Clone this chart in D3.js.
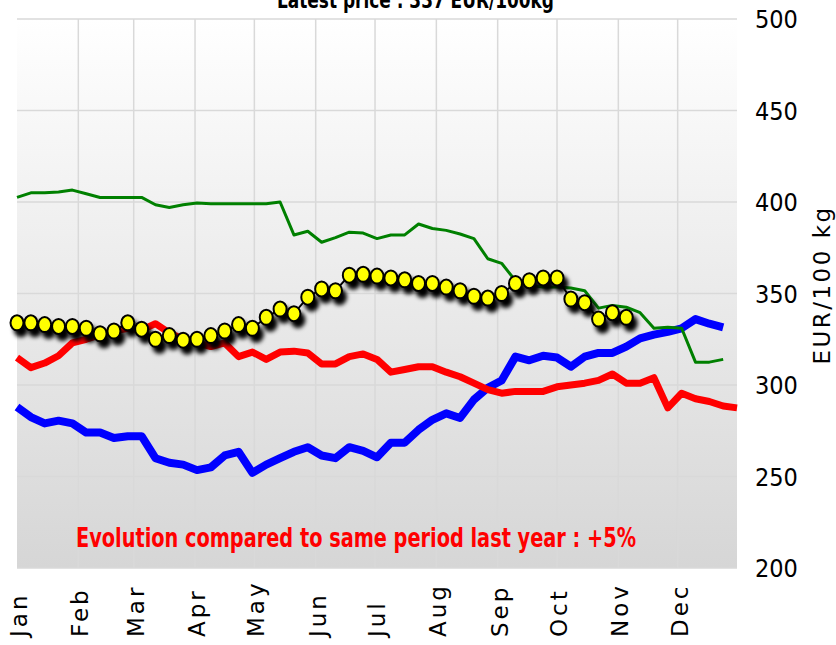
<!DOCTYPE html>
<html>
<head>
  <title>Price chart</title>
  <script src="https://d3js.org/d3.v7.min.js"></script>
  <style>
    body { margin: 0; background: #fff; }
  </style>
</head>
<body>
  <div id="chart"></div>

  <script>
    // weekly prices, EUR/100 kg
    var months = ["Jan", "Feb", "Mar", "Apr", "May", "Jun", "Jul", "Aug", "Sep", "Oct", "Nov", "Dec"];
    var monthStartDay = [0, 31, 59, 90, 120, 151, 181, 212, 243, 273, 304, 334];
    var yTicks = [200, 250, 300, 350, 400, 450, 500];

    var currentYear = [334, 334, 333, 332, 332, 331, 328, 329.5, 334, 330.5, 325, 327, 324.5, 325,
      327, 329.5, 333, 331, 337, 341.5, 339, 348, 352.5, 351.5, 360, 360.5, 359.5, 358.5, 357.5,
      355.5, 355.5, 353.5, 351.5, 348.5, 347.5, 350, 355.5, 357, 358.5, 358.5, 347, 345, 336,
      339.5, 337];

    var greenYear = [402.5, 405, 405, 405.5, 406.5, 404.5, 402.5, 402.5, 402.5, 402.5, 398.5, 397,
      398.5, 399.5, 399, 399, 399, 399, 399, 400, 382, 384, 378, 380.5, 383.5, 383, 380, 382, 382,
      388, 385.5, 384.5, 382.5, 380, 369, 366.5, 357, 354.5, 353.5, 353.5, 353, 351.5, 342, 343.5,
      342.5, 339.5, 331, 331.5, 331, 312.5, 312.5, 314];

    var redYear = [315, 309.5, 312, 316, 323, 325, 327.5, 329.5, 331, 330, 333.5, 328.5, 325, 323,
      321, 323, 315.5, 318, 314, 318, 318.5, 317.5, 311.5, 311.5, 315.5, 317, 314, 307, 308.5,
      310, 310, 307, 304.5, 301, 297.5, 295.5, 296.5, 296.5, 296.5, 299, 300, 301, 302.5, 306,
      301, 301, 304, 287.5, 295.5, 292.5, 291, 288.5, 287.5];

    var blueYear = [288, 282.5, 279, 280.5, 279, 274, 274, 271, 272, 272, 260, 257.5, 256.5, 253.5,
      255, 261.5, 263.5, 252, 256.5, 260, 263.5, 266, 261.5, 260, 266, 264, 260.5, 268.5, 268.5,
      275.5, 281, 284.5, 282, 292, 298.5, 302.5, 315.5, 313.5, 316, 315, 310, 315.5, 317.5, 317.5,
      321, 325.5, 327.5, 329, 331, 336, 333.5, 331.5];

    var titleText = "Latest price : 337 EUR/100kg";
    var noteText = "Evolution compared to same period last year : +5%";
    var yTitle = "EUR/100 kg";

    var width = 836, height = 645;
    var plot = { left: 17, right: 737, top: 19, bottom: 568 };

    var x = d3.scaleLinear().domain([0, 365]).range([plot.left, 739]);
    var y = d3.scaleLinear().domain([200, 500]).range([plot.bottom, plot.top]);

    var svg = d3.select("#chart")
      .append("svg")
      .attr("width", width)
      .attr("height", height);

    var defs = svg.append("defs");
    var grad = defs.append("linearGradient")
      .attr("id", "bg")
      .attr("x1", 0).attr("y1", 0).attr("x2", 0).attr("y2", 1);
    grad.append("stop").attr("offset", "0%").attr("stop-color", "#ffffff");
    grad.append("stop").attr("offset", "100%").attr("stop-color", "#d6d6d6");

    var shadow = defs.append("filter")
      .attr("id", "shadow")
      .attr("x", "-100%").attr("y", "-100%")
      .attr("width", "300%").attr("height", "300%");
    shadow.append("feDropShadow")
      .attr("dx", 4).attr("dy", 6)
      .attr("stdDeviation", 2)
      .attr("flood-color", "#000")
      .attr("flood-opacity", 1);

    svg.append("rect")
      .attr("x", plot.left)
      .attr("y", plot.top)
      .attr("width", plot.right - plot.left)
      .attr("height", plot.bottom - plot.top)
      .attr("fill", "url(#bg)");

    // grid
    svg.selectAll(".hgrid")
      .data(yTicks)
      .enter()
      .append("line")
      .attr("x1", plot.left)
      .attr("x2", plot.right)
      .attr("y1", function(d) { return y(d); })
      .attr("y2", function(d) { return y(d); })
      .attr("stroke", "#d9d9d9")
      .attr("stroke-width", 1.5);

    svg.selectAll(".vgrid")
      .data(monthStartDay.slice(1))
      .enter()
      .append("line")
      .attr("x1", function(d) { return x(d); })
      .attr("x2", function(d) { return x(d); })
      .attr("y1", plot.top)
      .attr("y2", plot.bottom)
      .attr("stroke", "#d9d9d9")
      .attr("stroke-width", 1.5);

    var line = d3.line()
      .x(function(d, i) { return x(i * 7); })
      .y(function(d) { return y(d); });

    svg.append("path")
      .datum(blueYear)
      .attr("d", line)
      .attr("fill", "none")
      .attr("stroke", "#0000ff")
      .attr("stroke-width", 8)
      .attr("stroke-linejoin", "round");

    svg.append("path")
      .datum(redYear)
      .attr("d", line)
      .attr("fill", "none")
      .attr("stroke", "#ff0000")
      .attr("stroke-width", 7)
      .attr("stroke-linejoin", "round");

    svg.append("path")
      .datum(greenYear)
      .attr("d", line)
      .attr("fill", "none")
      .attr("stroke", "#008000")
      .attr("stroke-width", 3)
      .attr("stroke-linejoin", "round");

    svg.append("path")
      .datum(currentYear)
      .attr("d", line)
      .attr("fill", "none")
      .attr("stroke", "#000")
      .attr("stroke-width", 2);

    svg.selectAll(".marker")
      .data(currentYear)
      .enter()
      .append("ellipse")
      .attr("cx", function(d, i) { return x(i * 7); })
      .attr("cy", function(d) { return y(d); })
      .attr("rx", 6.5)
      .attr("ry", 7.5)
      .attr("fill", "#ffff00")
      .attr("stroke", "#000")
      .attr("stroke-width", 2)
      .attr("filter", "url(#shadow)");

    // y axis on the right
    svg.selectAll(".ytick")
      .data(yTicks)
      .enter()
      .append("text")
      .attr("x", 755)
      .attr("y", function(d) { return y(d); })
      .attr("dy", "0.36em")
      .text(function(d) { return d; })
      .style("font-family", "'DejaVu Sans Condensed', 'DejaVu Sans'")
      .style("font-stretch", "condensed")
      .style("font-size", "25px")
      .style("fill", "#000");

    svg.append("text")
      .attr("transform", "translate(830,285) rotate(-90)")
      .attr("text-anchor", "middle")
      .text(yTitle)
      .style("font-family", "'DejaVu Sans'")
      .style("letter-spacing", "2.5px")
      .style("font-size", "23px")
      .style("fill", "#000");

    // month labels
    svg.selectAll(".month")
      .data(months)
      .enter()
      .append("text")
      .attr("transform", function(d, i) {
        return "translate(" + (x(monthStartDay[i]) + 10) + ",637) rotate(-90)";
      })
      .text(function(d) { return d; })
      .style("font-family", "'DejaVu Sans'")
      .style("letter-spacing", "3px")
      .style("font-size", "23px")
      .style("fill", "#000");

    svg.append("text")
      .attr("x", 277)
      .attr("y", 8)
      .attr("textLength", 277)
      .attr("lengthAdjust", "spacingAndGlyphs")
      .text(titleText)
      .style("font-family", "'DejaVu Sans Condensed', 'DejaVu Sans'")
      .style("font-weight", "bold")
      .style("font-size", "23px")
      .style("fill", "#000");

    svg.append("text")
      .attr("x", 76)
      .attr("y", 547)
      .attr("textLength", 560)
      .attr("lengthAdjust", "spacingAndGlyphs")
      .text(noteText)
      .style("font-family", "'DejaVu Sans Condensed', 'DejaVu Sans'")
      .style("font-weight", "bold")
      .style("font-size", "27px")
      .style("fill", "#ff0000");
  </script>
</body>
</html>
